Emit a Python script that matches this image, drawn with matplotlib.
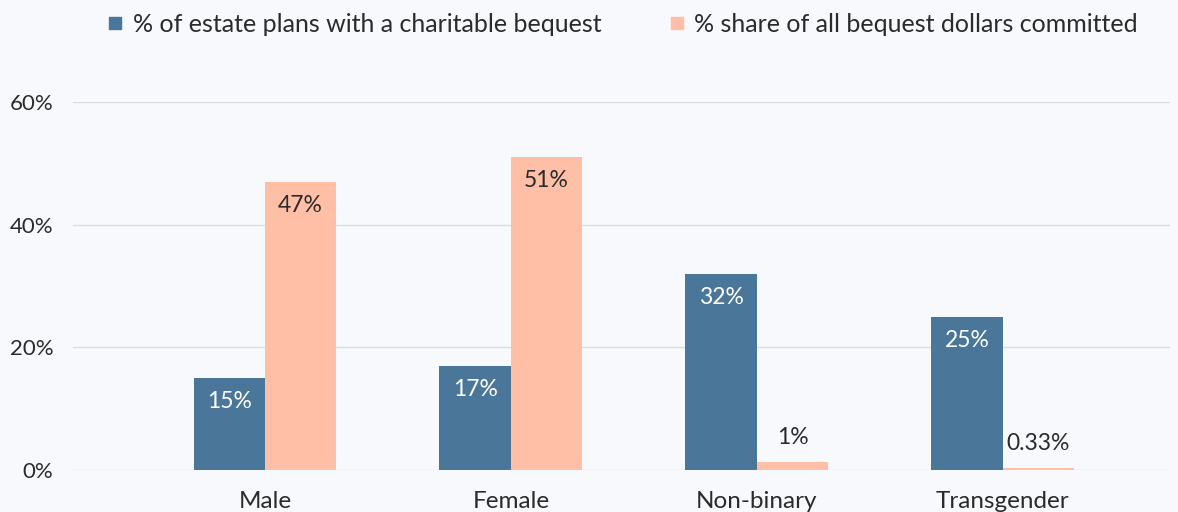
import numpy as np
import matplotlib
matplotlib.use('Agg')
import matplotlib.pyplot as plt
from matplotlib.lines import Line2D

# data
categories = ['Male', 'Female', 'Non-binary', 'Transgender']
seriesNames = ['% of estate plans with a charitable bequest',
               '% share of all bequest dollars committed']
plansPct = [15, 17, 32, 25]
dollarsPct = [47, 51, 1.3, 0.33]
plansLabels = ['15%', '17%', '32%', '25%']
dollarsLabels = ['47%', '51%', '1%', '0.33%']
yTicks = [0, 20, 40, 60]

plt.rcParams['font.family'] = ['Lato', 'DejaVu Sans']
bg = '#f7f9fc'
colors = ['#4a7799', '#ffbea6']
textColor = '#2b2b2b'

fig = plt.figure(figsize=(11.78, 5.12), dpi=100, facecolor=bg)
ax = fig.add_axes([73 / 1178, 42 / 512, (1170 - 73) / 1178, (470 - 102) / 512])
ax.set_facecolor(bg)

x = np.arange(len(categories))
width = 0.29
barsA = ax.bar(x - width / 2, plansPct, width, color=colors[0], zorder=3)
barsB = ax.bar(x + width / 2, dollarsPct, width, color=colors[1], zorder=3)

# 数值标签
for bars, labels, col in [(barsA, plansLabels, 'white'), (barsB, dollarsLabels, textColor)]:
    for rec, lab in zip(bars, labels):
        h = rec.get_height()
        cx = rec.get_x() + rec.get_width() / 2
        if h < 5:
            ax.annotate(lab, (cx, h), xytext=(0, 10), textcoords='offset points',
                        ha='center', va='bottom', fontsize=16.5, color=textColor)
        else:
            ax.annotate(lab, (cx, h), xytext=(0, -17), textcoords='offset points',
                        ha='center', va='center', fontsize=16.5, color=col)

ax.set_xlim(-0.78, 3.68)
ax.set_ylim(0, 60)
ax.set_yticks(yTicks)
ax.set_yticklabels([f'{v}%' for v in yTicks])
ax.set_xticks(x)
ax.set_xticklabels(categories)
ax.tick_params(axis='both', length=0, labelsize=16, colors=textColor)
ax.tick_params(axis='x', pad=15, labelsize=17.5)
ax.tick_params(axis='y', pad=14)
ax.grid(axis='y', color='#d9dde3', linewidth=1, zorder=0)
for s in ax.spines.values():
    s.set_visible(False)

handles = [Line2D([], [], marker='s', linestyle='none', markersize=8.5, color=c) for c in colors]
ax.legend(handles, seriesNames, loc='upper center', bbox_to_anchor=(0.5, 1 + 112 / 368),
          ncol=2, frameon=False, fontsize=18, handletextpad=0.3, columnspacing=2.6,
          labelcolor=textColor, handlelength=0.8)

fig.savefig('out.png', dpi=100, facecolor=bg)
